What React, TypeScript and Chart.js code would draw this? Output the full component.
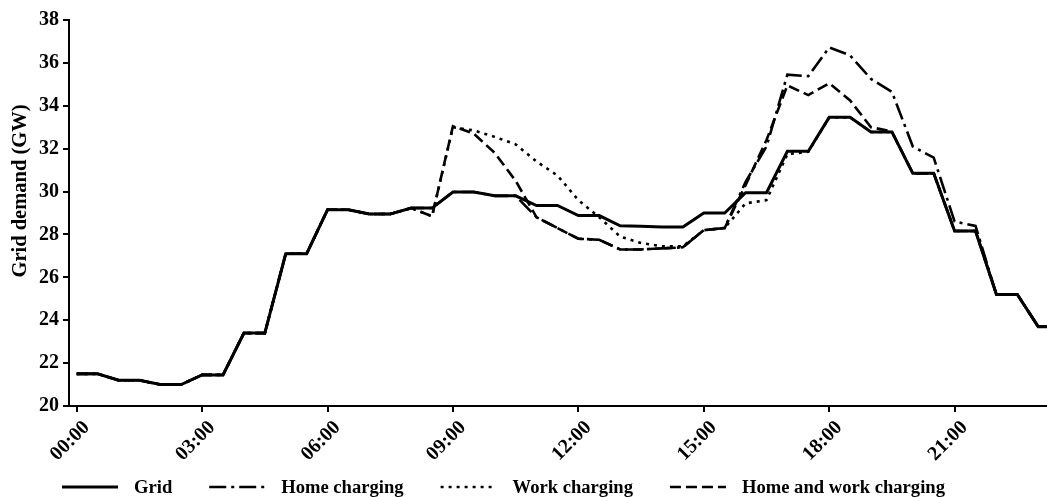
import React, { useEffect, useRef } from "react";
import { Chart, registerables } from "chart.js";

Chart.register(...registerables);

// Half-hourly time stamps over one day
const times = [
  "00:00", "00:30", "01:00", "01:30", "02:00", "02:30", "03:00", "03:30",
  "04:00", "04:30", "05:00", "05:30", "06:00", "06:30", "07:00", "07:30",
  "08:00", "08:30", "09:00", "09:30", "10:00", "10:30", "11:00", "11:30",
  "12:00", "12:30", "13:00", "13:30", "14:00", "14:30", "15:00", "15:30",
  "16:00", "16:30", "17:00", "17:30", "18:00", "18:30", "19:00", "19:30",
  "20:00", "20:30", "21:00", "21:30", "22:00", "22:30", "23:00", "23:30",
];

// Grid demand in GW
const grid = [
  21.5, 21.5, 21.2, 21.2, 21.0, 21.0, 21.45, 21.45,
  23.4, 23.4, 27.1, 27.1, 29.15, 29.15, 28.95, 28.95,
  29.23, 29.23, 29.98, 29.98, 29.8, 29.8, 29.35, 29.35,
  28.88, 28.88, 28.4, 28.38, 28.35, 28.35, 29.0, 29.0,
  29.95, 29.95, 31.88, 31.88, 33.46, 33.46, 32.78, 32.78,
  30.85, 30.85, 28.16, 28.16, 25.2, 25.2, 23.7, 23.7,
];

const homeCharging = [
  21.5, 21.5, 21.2, 21.2, 21.0, 21.0, 21.45, 21.45,
  23.4, 23.4, 27.1, 27.1, 29.15, 29.15, 28.95, 28.95,
  29.23, 29.23, 29.98, 29.98, 29.8, 29.8, 28.8, 28.3,
  27.8, 27.75, 27.3, 27.3, 27.35, 27.4, 28.2, 28.3,
  30.45, 32.1, 35.45, 35.38, 36.72, 36.35, 35.25, 34.65,
  32.1, 31.58, 28.6, 28.4, 25.2, 25.2, 23.7, 23.7,
];

const workCharging = [
  21.5, 21.5, 21.2, 21.2, 21.0, 21.0, 21.45, 21.45,
  23.4, 23.4, 27.1, 27.1, 29.15, 29.15, 28.95, 28.95,
  29.23, 28.85, 33.0, 32.85, 32.55, 32.2, 31.4, 30.75,
  29.6, 28.8, 27.9, 27.6, 27.45, 27.45, 28.2, 28.3,
  29.45, 29.6, 31.75, 31.85, 33.46, 33.46, 32.78, 32.78,
  30.85, 30.85, 28.16, 28.16, 25.2, 25.2, 23.7, 23.7,
];

const homeWorkCharging = [
  21.5, 21.5, 21.2, 21.2, 21.0, 21.0, 21.45, 21.45,
  23.4, 23.4, 27.1, 27.1, 29.15, 29.15, 28.95, 28.95,
  29.23, 28.85, 33.05, 32.7, 31.8, 30.5, 28.8, 28.3,
  27.8, 27.75, 27.3, 27.3, 27.35, 27.4, 28.2, 28.3,
  30.3, 32.4, 34.95, 34.5, 35.05, 34.25, 33.0, 32.8,
  30.85, 30.85, 28.16, 28.16, 25.2, 25.2, 23.7, 23.7,
];

const seriesLabels = ["Grid", "Home charging", "Work charging", "Home and work charging"];
const xTickLabels = ["00:00", "03:00", "06:00", "09:00", "12:00", "15:00", "18:00", "21:00"];
const yTitle = "Grid demand (GW)";

const FONT_FAMILY = "'Liberation Serif', 'Times New Roman', serif";
const INK = "#000000";

const toHours = (t: string) => {
  const [h, m] = t.split(":").map(Number);
  return h + m / 60;
};

const pointsOf = (values: number[]) =>
  values.map((v, i) => ({ x: toHours(times[i]), y: v }));

const lineStyles = [
  { dash: [] as number[], width: 3 },
  { dash: [17, 5, 3, 5], width: 2.6 },
  { dash: [3, 5], width: 2.6 },
  { dash: [11, 5], width: 2.6 },
];

// Draws the rotated y-axis title and the bottom legend row
const annotations = {
  id: "annotations",
  afterDraw(chart: any) {
    const ctx = chart.ctx as CanvasRenderingContext2D;
    const area = chart.chartArea;
    ctx.save();
    ctx.fillStyle = INK;

    // y-axis title
    ctx.font = `bold 20.5px ${FONT_FAMILY}`;
    ctx.save();
    ctx.translate(21, area.top + (area.bottom - area.top) * 0.443);
    ctx.rotate(-Math.PI / 2);
    ctx.textAlign = "center";
    ctx.textBaseline = "middle";
    ctx.fillText(yTitle, 0, 0);
    ctx.restore();

    // legend
    ctx.font = `bold 18.6px ${FONT_FAMILY}`;
    const sample = 56;
    const gap = 16;
    const spacing = 37;
    const lineY = chart.height - 8;
    let x = area.left - 7;
    ctx.textAlign = "left";
    ctx.textBaseline = "alphabetic";
    chart.data.datasets.forEach((ds: any) => {
      ctx.save();
      ctx.strokeStyle = ds.borderColor;
      ctx.lineWidth = ds.borderWidth;
      ctx.setLineDash(ds.borderDash || []);
      ctx.beginPath();
      ctx.moveTo(x, lineY - 2);
      ctx.lineTo(x + sample, lineY - 2);
      ctx.stroke();
      ctx.restore();
      const tx = x + sample + gap;
      ctx.fillText(ds.label, tx, lineY + 4);
      x = tx + ctx.measureText(ds.label).width + spacing;
    });
    ctx.restore();
  },
};

export default function App() {
  const canvasRef = useRef<HTMLCanvasElement | null>(null);

  useEffect(() => {
    if (!canvasRef.current) return;
    const seriesValues = [grid, homeCharging, workCharging, homeWorkCharging];
    const chart = new Chart(canvasRef.current, {
      type: "line",
      data: {
        datasets: seriesValues.map((vals, i) => ({
          label: seriesLabels[i],
          data: pointsOf(vals),
          borderColor: INK,
          backgroundColor: INK,
          borderWidth: lineStyles[i].width,
          borderDash: lineStyles[i].dash,
          pointRadius: 0,
          tension: 0,
          fill: false,
        })),
      },
      options: {
        responsive: false,
        animation: false,
        layout: { padding: { top: 20, left: 0, right: 0, bottom: 0 } },
        font: { family: FONT_FAMILY },
        plugins: {
          legend: { display: false },
          tooltip: { enabled: false },
        },
        scales: {
          x: {
            type: "linear",
            min: -0.184,
            max: 23.21,
            border: { display: true, color: INK, width: 2 },
            grid: {
              display: true,
              drawOnChartArea: false,
              drawTicks: true,
              tickLength: 6,
              color: INK,
              lineWidth: 2,
            },
            afterBuildTicks: (scale: any) => {
              scale.ticks = xTickLabels.map((t) => ({ value: toHours(t) }));
            },
            afterFit: (scale: any) => {
              scale.height = 91;
            },
            ticks: {
              autoSkip: false,
              minRotation: 45,
              maxRotation: 45,
              labelOffset: 10,
              padding: 4,
              color: INK,
              font: { family: FONT_FAMILY, size: 20, weight: "bold" },
              callback: (_v: any, index: number) => xTickLabels[index],
            },
          },
          y: {
            type: "linear",
            min: 20,
            max: 38,
            border: { display: true, color: INK, width: 2 },
            grid: {
              display: true,
              drawOnChartArea: false,
              drawTicks: true,
              tickLength: 6,
              color: INK,
              lineWidth: 2,
            },
            afterFit: (scale: any) => {
              scale.width = 69;
            },
            ticks: {
              stepSize: 2,
              padding: 4,
              color: INK,
              font: { family: FONT_FAMILY, size: 20, weight: "bold" },
            },
          },
        },
      },
      plugins: [annotations],
    });
    return () => chart.destroy();
  }, []);

  return (
    <div style={{ position: "fixed", left: 0, top: 0, width: 1047, height: 497, background: "#fff" }}>
      <canvas ref={canvasRef} width={1047} height={497} style={{ display: "block" }} />
    </div>
  );
}
